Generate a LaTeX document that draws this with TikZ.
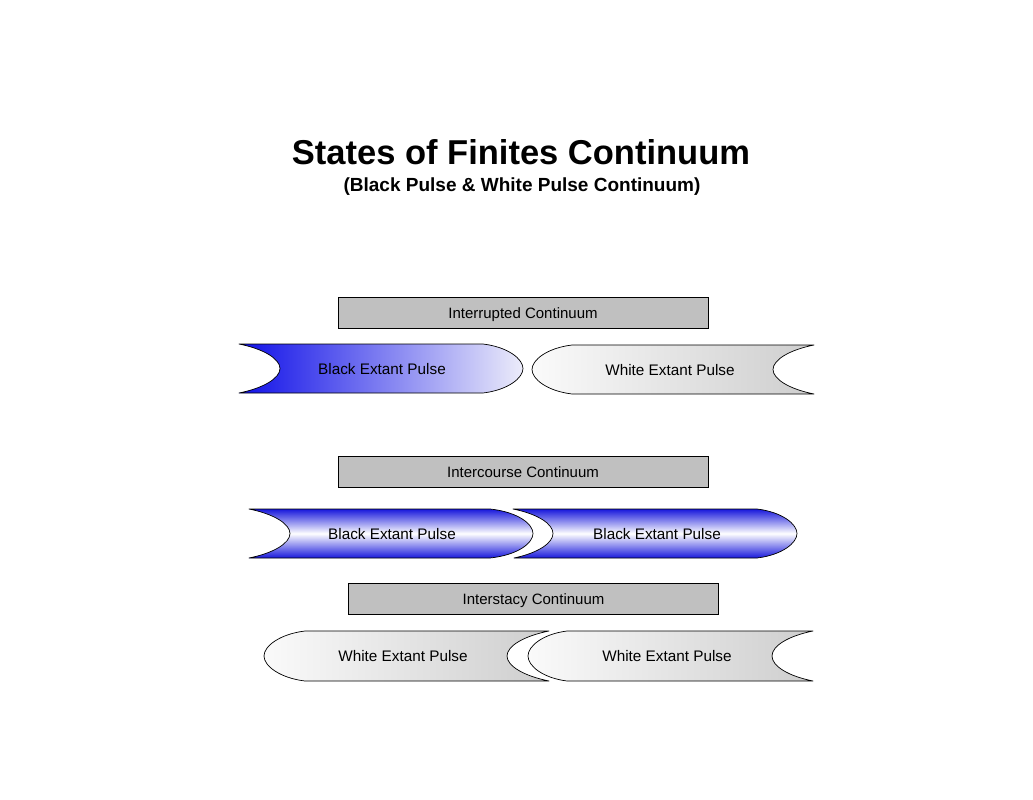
\documentclass[tikz,border=0pt]{standalone}
\usepackage{fontspec}
\setmainfont{Liberation Sans}
\definecolor{pblue}{RGB}{16,16,232}
\definecolor{plight}{RGB}{236,236,250}
\definecolor{p2blue}{RGB}{24,24,220}
\definecolor{wlight}{RGB}{250,250,250}
\definecolor{wdark}{RGB}{206,206,206}
\definecolor{barfill}{RGB}{192,192,192}
\tikzset{
  outline/.style={draw=black, line width=0.7pt, line join=round},
  bar/.style={draw=black, fill=barfill, line width=0.8pt, minimum width=370pt, minimum height=31pt, inner sep=0pt, text height=15pt, text depth=3.2pt, font=\fontsize{15}{16}\selectfont},
  plabel/.style={font=\fontsize{15.3}{16}\selectfont, inner sep=0pt},
  ttl/.style={font=\fontsize{34.5}{40}\selectfont\bfseries, inner sep=0pt},
  sttl/.style={font=\fontsize{19}{22}\selectfont\bfseries, inner sep=0pt},
  hshadeblue/.style={left color=pblue, right color=plight},
  vshadeblue/.style={top color=p2blue, bottom color=p2blue, middle color=white},
  whiteshade/.style={left color=wlight, right color=wdark},
}
\begin{document}
\begin{tikzpicture}[x=1pt,y=-1pt]
\useasboundingbox[fill=white] (0,0) rectangle (1033,800);

% titles
\node[ttl] (title) at (521,152) {States of Finites Continuum};
\node[sttl] (subtitle) at (522,186.5) {(Black Pulse \& White Pulse Continuum)};

% row 1
\node[bar] (bar1) at (523,312.5) {Interrupted Continuum};
\path[outline, hshadeblue] (239,344) -- (483,344)
  .. controls (508,347) and (523,359) .. (523,368.5)
  .. controls (523,378) and (508,390) .. (483,393) -- (239,393)
  .. controls (264,388) and (280,378) .. (280,368.5)
  .. controls (280,359) and (264,349) .. cycle;
\node[plabel] (bp1) at (382,369) {Black Extant Pulse};
\path[outline, whiteshade] (814,345) -- (572,345)
  .. controls (547,348) and (532,360) .. (532,369.5)
  .. controls (532,379) and (547,391) .. (572,394) -- (814,394)
  .. controls (789,389) and (773,379) .. (773,369.5)
  .. controls (773,360) and (789,350) .. cycle;
\node[plabel] (wp1) at (670,370) {White Extant Pulse};

% row 2
\node[bar] (bar2) at (523,471.5) {Intercourse Continuum};
\path[outline, vshadeblue] (249,509) -- (490,509)
  .. controls (518,512) and (533,524) .. (533,533.5)
  .. controls (533,543) and (518,555) .. (490,558) -- (249,558)
  .. controls (274,553) and (290,543) .. (290,533.5)
  .. controls (290,524) and (274,514) .. cycle;
\node[plabel] (bp2) at (392,534) {Black Extant Pulse};
\path[outline, vshadeblue] (513,509) -- (757,509)
  .. controls (782,512) and (797,524) .. (797,533.5)
  .. controls (797,543) and (782,555) .. (757,558) -- (514,558)
  .. controls (538,553) and (553,543) .. (553,533.5)
  .. controls (553,524) and (538,514) .. cycle;
\node[plabel] (bp3) at (657,534) {Black Extant Pulse};

% row 3
\node[bar] (bar3) at (533.5,598.5) {Interstacy Continuum};
\path[outline, whiteshade] (549,631) -- (305,631)
  .. controls (280,634) and (264,646) .. (264,656)
  .. controls (264,666) and (280,678) .. (305,681) -- (549,681)
  .. controls (524,676) and (507,666) .. (507,656)
  .. controls (507,646) and (524,636) .. cycle;
\node[plabel] (wp2) at (403,656) {White Extant Pulse};
\path[outline, whiteshade] (813,631) -- (567,631)
  .. controls (543,634) and (528,646) .. (528,656)
  .. controls (528,666) and (543,678) .. (567,681) -- (813,681)
  .. controls (788,676) and (772,666) .. (772,656)
  .. controls (772,646) and (788,636) .. cycle;
\node[plabel] (wp3) at (667,656) {White Extant Pulse};
\end{tikzpicture}
\end{document}
